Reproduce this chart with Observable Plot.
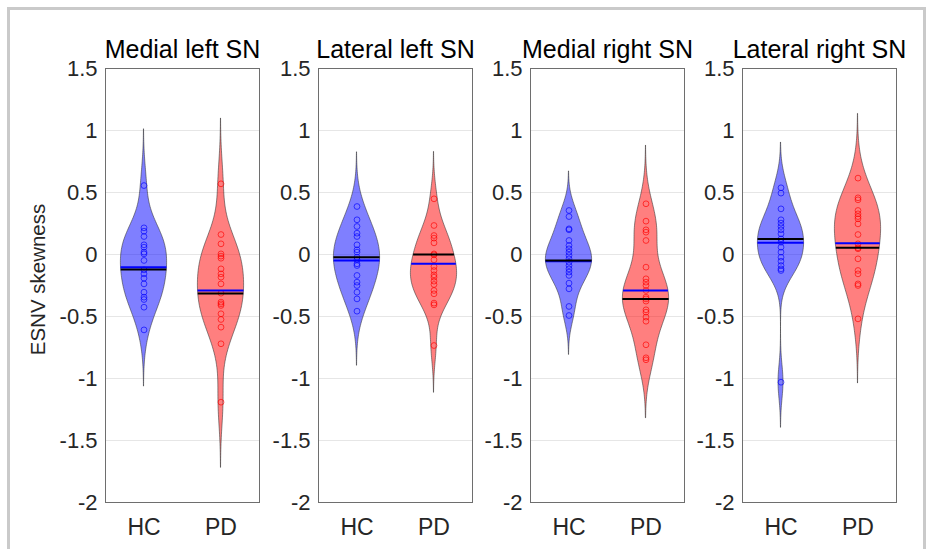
<!DOCTYPE html>
<html><head><meta charset="utf-8">
<script src="https://cdn.jsdelivr.net/npm/d3@7"></script>
<script src="https://cdn.jsdelivr.net/npm/@observablehq/plot@0.6"></script>
<style>
body{margin:0;background:#fff;}
#wrap{position:relative;width:927px;height:549px;overflow:hidden;background:#fff;font-family:"Liberation Sans",Arial,sans-serif;}
#border{position:absolute;left:7px;top:7px;width:919px;height:700px;box-sizing:border-box;border:3px solid #cacaca;}
.panel{position:absolute;}
</style></head><body>
<div id="wrap"><div id="border"></div></div>
<script>
// ---- data ----
const panelTitles = ["Medial left SN", "Lateral left SN", "Medial right SN", "Lateral right SN"];
const groups = ["HC", "PD"];
const yTicks = [-2, -1.5, -1, -0.5, 0, 0.5, 1, 1.5];

const medialLeftHC = [0.556, 0.215, 0.188, 0.145, 0.078, 0.059, 0.019, 0.005, -0.048, -0.124, -0.156, -0.191, -0.237, -0.304, -0.344, -0.363, -0.425, -0.608];
const medialLeftPD = [0.570, 0.161, 0.086, 0.005, -0.013, -0.030, -0.116, -0.156, -0.183, -0.237, -0.312, -0.384, -0.398, -0.411, -0.478, -0.524, -0.586, -0.720, -1.191];
const lateralLeftHC = [0.387, 0.280, 0.226, 0.172, 0.145, 0.078, 0.038, 0.019, -0.022, -0.043, -0.075, -0.089, -0.169, -0.223, -0.250, -0.304, -0.358, -0.457];
const lateralLeftPD = [0.449, 0.234, 0.153, 0.132, 0.094, 0.005, -0.003, -0.043, -0.097, -0.129, -0.164, -0.183, -0.215, -0.242, -0.290, -0.317, -0.392, -0.406, -0.734];
const medialRightHC = [0.355, 0.306, 0.207, 0.199, 0.113, 0.073, 0.046, 0.019, -0.008, -0.035, -0.062, -0.089, -0.116, -0.142, -0.169, -0.231, -0.277, -0.419, -0.492];
const medialRightPD = [0.409, 0.269, 0.199, 0.180, 0.113, -0.102, -0.196, -0.223, -0.250, -0.290, -0.344, -0.358, -0.376, -0.446, -0.465, -0.505, -0.538, -0.728, -0.833, -0.849];
const lateralRightHC = [0.538, 0.495, 0.368, 0.280, 0.253, 0.226, 0.199, 0.167, 0.126, 0.099, 0.059, 0.019, -0.022, -0.054, -0.089, -0.116, -0.129, -1.030];
const lateralRightPD = [0.616, 0.457, 0.441, 0.355, 0.328, 0.306, 0.288, 0.247, 0.161, 0.086, 0.054, 0.046, -0.035, -0.129, -0.156, -0.237, -0.250, -0.519];

// blue lines (mean) and black lines (median), per panel: [HC, PD]
const meanValues = [[-0.102, -0.290], [-0.048, -0.075], [-0.054, -0.290], [0.094, 0.091]];
const medianValues = [[-0.121, -0.315], [-0.022, 0.000], [-0.048, -0.358], [0.126, 0.054]];

const panelData = [
  [medialLeftHC, medialLeftPD],
  [lateralLeftHC, lateralLeftPD],
  [medialRightHC, medialRightPD],
  [lateralRightHC, lateralRightPD]
];

// ---- layout / style ----
const groupColors = ["#0000ff", "#ff0000"];
const panelLefts = [105, 318, 530, 742];
const frameTop = 68, frameW = 154, frameH = 434;
const maxHalf = 0.3;
const FONT = '"Liberation Sans", Arial, sans-serif';

// Gaussian kernel density (Silverman bandwidth with MAD, like MATLAB ksdensity)
function kde(values) {
  const n = values.length;
  const med = d3.median(values);
  const mad = d3.median(values, v => Math.abs(v - med));
  const bw = (mad / 0.6745) * Math.pow(4 / (3 * n), 0.2);
  const lo = d3.min(values) - 2.7 * bw, hi = d3.max(values) + 2.7 * bw;
  const dens = y => d3.mean(values, v => Math.exp(-0.5 * ((y - v) / bw) ** 2));
  const ys = d3.range(120).map(i => lo + (hi - lo) * i / 119);
  const ds = ys.map(dens);
  const m = d3.max(ds);
  return {ys, ds: ds.map(d => d / m), f: y => dens(y) / m};
}

const wrap = document.getElementById("wrap");
panelData.forEach((pair, pi) => {
  const ml = pi === 0 ? 105 : 60;
  const marks = [Plot.gridY(yTicks, {stroke: "#e6e6e6", strokeOpacity: 1, strokeWidth: 1})];
  const lineMarks = [], dotMarks = [];
  pair.forEach((vals, gi) => {
    const pos = gi + 1;
    const k = kde(vals);
    const outline = k.ys.map((y, i) => ({y, x1: pos - maxHalf * k.ds[i], x2: pos + maxHalf * k.ds[i]}));
    marks.push(Plot.areaX(outline, {y: "y", x1: "x1", x2: "x2", fill: groupColors[gi], fillOpacity: 0.5, stroke: "#333", strokeOpacity: 0.8, strokeWidth: 0.7}));
    const mv = meanValues[pi][gi], md = medianValues[pi][gi];
    lineMarks.push(Plot.ruleY([mv], {y: d => d, x1: pos - maxHalf * k.f(mv), x2: pos + maxHalf * k.f(mv), stroke: "#0000ff", strokeWidth: 2}));
    lineMarks.push(Plot.ruleY([md], {y: d => d, x1: pos - maxHalf * k.f(md), x2: pos + maxHalf * k.f(md), stroke: "#000", strokeWidth: 2}));
    dotMarks.push(Plot.dot(vals, {x: () => pos, y: d => d, r: 2.9, fill: "none", stroke: groupColors[gi], strokeOpacity: 0.65, strokeWidth: 1}));
  });
  marks.push(...dotMarks, ...lineMarks);
  marks.push(Plot.frame({stroke: "#6e6e6e", strokeWidth: 1}));
  marks.push(Plot.axisY(yTicks, {label: null, tickSize: 0, tickPadding: 8, tickFormat: d => String(d), fontSize: 22, fill: "#262626"}));
  marks.push(Plot.axisX([1, 2], {label: null, tickSize: 0, tickPadding: 16, tickFormat: d => groups[d - 1], fontSize: 23, fill: "#262626"}));
  marks.push(Plot.text([panelTitles[pi]], {text: d => d, frameAnchor: "top", lineAnchor: "middle", textAnchor: "middle", dy: -19, fontSize: 25, fill: "#000"}));
  if (pi === 0) marks.push(Plot.text(["ESNV skewness"], {text: d => d, frameAnchor: "left", textAnchor: "middle", lineAnchor: "middle", dx: -67, dy: -6, rotate: -90, fontSize: 20.5, fill: "#262626"}));

  const svg = Plot.plot({
    width: ml + frameW + 6,
    height: 60 + frameH + 47,
    marginLeft: ml, marginRight: 6, marginTop: 60, marginBottom: 47,
    x: {domain: [0.5, 2.5], axis: null},
    y: {domain: [-2, 1.5], axis: null},
    style: {fontFamily: FONT, background: "transparent", overflow: "visible"},
    marks
  });
  const div = document.createElement("div");
  div.className = "panel";
  div.style.left = (panelLefts[pi] - ml) + "px";
  div.style.top = (frameTop - 60) + "px";
  div.appendChild(svg);
  wrap.appendChild(div);
});
</script>
</body></html>
